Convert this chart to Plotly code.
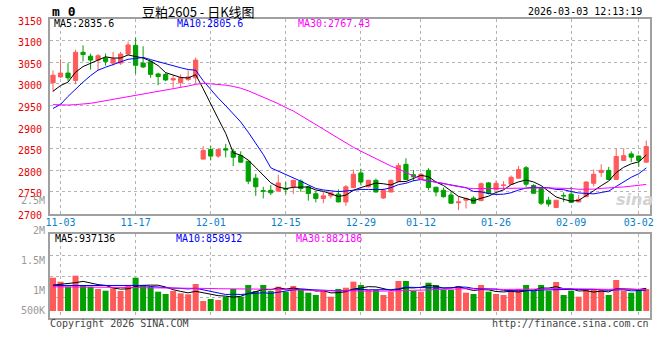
import plotly.graph_objects as go

# ---------------- data ----------------
dates = [
    "2025-10-31",
    "2025-11-03", "2025-11-04", "2025-11-05", "2025-11-06", "2025-11-07",
    "2025-11-10", "2025-11-11", "2025-11-12", "2025-11-13", "2025-11-14",
    "2025-11-17", "2025-11-18", "2025-11-19", "2025-11-20", "2025-11-21",
    "2025-11-24", "2025-11-25", "2025-11-26", "2025-11-27", "2025-11-28",
    "2025-12-01", "2025-12-02", "2025-12-03", "2025-12-04", "2025-12-05",
    "2025-12-08", "2025-12-09", "2025-12-10", "2025-12-11", "2025-12-12",
    "2025-12-15", "2025-12-16", "2025-12-17", "2025-12-18", "2025-12-19",
    "2025-12-22", "2025-12-23", "2025-12-24", "2025-12-25", "2025-12-26",
    "2025-12-29", "2025-12-30", "2025-12-31",
    "2026-01-05", "2026-01-06", "2026-01-07", "2026-01-08", "2026-01-09",
    "2026-01-12", "2026-01-13", "2026-01-14", "2026-01-15", "2026-01-16",
    "2026-01-19", "2026-01-20", "2026-01-21", "2026-01-22", "2026-01-23",
    "2026-01-26", "2026-01-27", "2026-01-28", "2026-01-29", "2026-01-30",
    "2026-02-02", "2026-02-03", "2026-02-04", "2026-02-05", "2026-02-06",
    "2026-02-09", "2026-02-10", "2026-02-11", "2026-02-12", "2026-02-13",
    "2026-02-24", "2026-02-25", "2026-02-26", "2026-02-27",
    "2026-03-02", "2026-03-03",
]

opens = [3003, 3016, 3025, 3008, 3073, 3064, 3055, 3060, 3048, 3048,
         3069, 3089, 3048, 3051, 3023, 3022, 3009, 3003, 3010, 3014,
         2826, 2848, 2833, 2850, 2844, 2834, 2821, 2782, 2753, 2754,
         2752, 2758, 2762, 2775, 2762, 2746, 2735, 2741, 2745, 2727,
         2760, 2794, 2762, 2777, 2736, 2750, 2775, 2814, 2790, 2780,
         2800, 2761, 2754, 2743, 2725, 2731, 2736, 2730, 2771, 2755,
         2765, 2768, 2782, 2806, 2765, 2758, 2731, 2714, 2742, 2745,
         2727, 2739, 2770, 2795, 2800, 2779, 2823, 2838, 2833, 2819]
highs = [3031, 3057, 3048, 3079, 3089, 3070, 3069, 3070, 3074, 3074,
         3098, 3107, 3087, 3054, 3026, 3026, 3020, 3022, 3031, 3061,
         2856, 2856, 2850, 2861, 2850, 2844, 2822, 2792, 2762, 2766,
         2790, 2773, 2778, 2779, 2764, 2752, 2750, 2751, 2756, 2766,
         2802, 2804, 2778, 2781, 2758, 2779, 2817, 2828, 2801, 2794,
         2805, 2762, 2760, 2752, 2739, 2737, 2740, 2772, 2773, 2777,
         2775, 2788, 2810, 2810, 2768, 2759, 2739, 2731, 2749, 2762,
         2743, 2775, 2802, 2814, 2808, 2850, 2851, 2844, 2835, 2869]
lows = [2981, 3014, 3007, 3000, 3052, 3033, 3031, 3042, 3042, 3044,
        3068, 3023, 3037, 3014, 2997, 3006, 2991, 2992, 3006, 3002,
        2825, 2823, 2829, 2830, 2810, 2818, 2768, 2741, 2735, 2743,
        2751, 2745, 2745, 2750, 2730, 2726, 2724, 2735, 2726, 2718,
        2759, 2765, 2760, 2749, 2734, 2749, 2772, 2778, 2775, 2777,
        2754, 2740, 2737, 2723, 2708, 2712, 2722, 2729, 2744, 2754,
        2756, 2767, 2781, 2762, 2746, 2720, 2716, 2713, 2727, 2725,
        2726, 2739, 2763, 2785, 2779, 2779, 2822, 2819, 2808, 2818]
closes = [3020, 3025, 3014, 3073, 3068, 3055, 3065, 3052, 3058, 3069,
          3090, 3043, 3039, 3022, 3017, 3009, 3012, 3014, 3016, 3055,
          2846, 2833, 2848, 2847, 2830.5, 2819, 2775, 2762, 2752, 2748,
          2771, 2756, 2777, 2758, 2746.5, 2735, 2741, 2748, 2727, 2762,
          2791, 2773, 2777, 2750, 2754, 2777, 2811, 2779, 2785, 2791,
          2760, 2750, 2739, 2724, 2727, 2735, 2724, 2769, 2747, 2770,
          2766, 2784, 2802, 2768, 2747, 2724, 2722, 2731, 2741, 2726,
          2733, 2773, 2791, 2800, 2779, 2832, 2834, 2830.5, 2823, 2855]

ma5 = [2983, 2996, 3004, 3027, 3040, 3047, 3055, 3062.6, 3059.6, 3059.8,
       3066.8, 3062.4, 3059.8, 3052.6, 3042.2, 3026, 3019.8, 3014.8, 3013.6, 3021.2,
       2988.6, 2952.6, 2919.4, 2885.4, 2840.5, 2835.1, 2823.7, 2806.5, 2787.7, 2771.2,
       2761.6, 2757.8, 2760.8, 2762, 2761.7, 2754.5, 2751.5, 2745.7, 2739.5, 2742.6,
       2753.8, 2760.2, 2766, 2770.6, 2769, 2766.2, 2773.8, 2774.2, 2781.2, 2788.6,
       2785.2, 2773, 2765, 2752.8, 2739.8, 2734.8, 2729.6, 2735.6, 2740.2, 2748.8,
       2755, 2766.8, 2773.4, 2777.6, 2773.2, 2764.8, 2752.6, 2738.4, 2733, 2728.8,
       2730.6, 2740.8, 2752.8, 2764.6, 2775.2, 2795, 2807.2, 2815.1, 2819.7, 2835.6]
ma10 = [2943, 2952.5, 2971, 2988, 3004, 3019, 3031.7, 3038.5, 3044.7, 3049.9,
        3056.9, 3058.7, 3061.2, 3056.1, 3051, 3046.4, 3041.1, 3037.3, 3033.1, 3031.7,
        3007.3, 2986.2, 2967.1, 2949.5, 2930.9, 2911.9, 2888.2, 2863, 2836.6, 2805.9,
        2798.4, 2790.8, 2783.7, 2774.9, 2766.5, 2758.1, 2754.7, 2753.3, 2750.8, 2752.2,
        2754.2, 2755.9, 2755.9, 2755.1, 2755.8, 2760, 2767, 2770.1, 2775.9, 2778.8,
        2775.7, 2773.4, 2769.6, 2767, 2764.2, 2760, 2751.3, 2750.3, 2746.5, 2744.3,
        2744.9, 2748.2, 2754.5, 2758.9, 2761, 2759.9, 2759.7, 2755.9, 2755.3, 2751,
        2747.7, 2746.7, 2745.6, 2748.8, 2752, 2762.8, 2774, 2784, 2792.2, 2805.6]
ma30 = [2952, 2951, 2951, 2952, 2953, 2955, 2958, 2961, 2964, 2967,
        2970, 2973, 2976, 2979, 2982, 2985, 2988, 2991, 2995, 2999,
        3001, 3000, 2999, 2997, 2994, 2990, 2984, 2977, 2970, 2962.5,
        2954.2, 2945.2, 2937.3, 2926.8, 2916.1, 2905.4, 2894.6, 2884.5, 2873.5, 2863.2,
        2853.3, 2844.3, 2835.5, 2826.5, 2817.7, 2810, 2803.3, 2795.4, 2787.7, 2778.9,
        2776.1, 2773.3, 2769.7, 2765.6, 2762.2, 2759.4, 2757.7, 2757.9, 2757.7, 2758.5,
        2758.3, 2759.2, 2760.1, 2760.4, 2760.4, 2760, 2759.4, 2758.8, 2759.3, 2758.1,
        2756.2, 2756.2, 2756.6, 2758.3, 2759.1, 2761, 2761.7, 2763.5, 2764.7, 2767.43]

volumes = [1376000, 1211000, 1004000, 1459000, 1074000, 1004000, 909000, 839000, 938000, 826000,
           1074000, 1376000, 1074000, 1004000, 798000, 702000, 826000, 731000, 690000, 1116000,
           413000, 496000, 455000, 591000, 909000, 591000, 1074000, 826000, 1074000, 826000,
           1004000, 798000, 1033000, 868000, 756000, 661000, 868000, 591000, 909000, 963000,
           1211000, 1074000, 868000, 868000, 661000, 798000, 1240000, 1240000, 826000, 798000,
           1169000, 1074000, 868000, 868000, 1033000, 756000, 702000, 1074000, 798000, 702000,
           661000, 839000, 909000, 1074000, 839000, 1074000, 839000, 1198000, 661000, 839000,
           591000, 909000, 909000, 868000, 661000, 1281000, 839000, 756000, 909000, 909000]
vol_ma5 = [1070000, 1100000, 1130000, 1170000, 1225000, 1150000, 1090000, 1057000, 953000, 903000,
           917000, 1011000, 1058000, 1071000, 1065000, 991000, 881000, 812000, 749000, 813000,
           755000, 689000, 634000, 614000, 573000, 608000, 724000, 798000, 895000, 878000,
           961000, 906000, 947000, 906000, 892000, 823000, 837000, 749000, 757000, 798000,
           908000, 950000, 1005000, 997000, 936000, 854000, 887000, 961000, 953000, 980000,
           1055000, 1021000, 947000, 955000, 1002000, 920000, 845000, 887000, 873000, 806000,
           787000, 815000, 782000, 837000, 864000, 947000, 947000, 1005000, 922000, 922000,
           826000, 840000, 782000, 823000, 788000, 926000, 912000, 881000, 889000, 937136]
vol_ma10 = [1050000, 1050000, 1050000, 1060000, 1060000, 1060000, 1060000, 1060000, 1060000, 1064000,
            1034000, 1050000, 1057000, 1012000, 984000, 954000, 946000, 935000, 910000, 939000,
            873000, 785000, 723000, 682000, 693000, 682000, 707000, 716000, 755000, 726000,
            785000, 815000, 873000, 900000, 885000, 892000, 871000, 848000, 831000, 845000,
            866000, 893000, 877000, 877000, 867000, 881000, 918000, 983000, 975000, 958000,
            954000, 954000, 954000, 954000, 991000, 987000, 933000, 917000, 914000, 904000,
            854000, 830000, 834000, 855000, 835000, 867000, 881000, 893000, 880000, 893000,
            886000, 893000, 893000, 873000, 855000, 876000, 876000, 831000, 856000, 858912]
vol_ma30 = [1000000, 1000000, 1000000, 1000000, 990000, 990000, 990000, 980000, 980000, 970000,
            970000, 970000, 960000, 960000, 950000, 950000, 950000, 940000, 940000, 940000,
            930000, 930000, 920000, 920000, 920000, 920000, 910000, 910000, 910000, 910000,
            897000, 883000, 884000, 865000, 854000, 843000, 841000, 833000, 832000, 837000,
            841000, 831000, 824000, 820000, 815000, 818000, 832000, 849000, 854000, 843000,
            868000, 887000, 901000, 910000, 915000, 920000, 908000, 916000, 907000, 903000,
            891000, 893000, 888000, 895000, 898000, 912000, 911000, 931000, 923000, 919000,
            898000, 893000, 894000, 894000, 894000, 910000, 897000, 881000, 883000, 882186]

tick_dates = ["2025-11-03", "2025-11-17", "2025-12-01", "2025-12-15", "2025-12-29",
              "2026-01-12", "2026-01-26", "2026-02-09", "2026-03-02"]
tick_labels = ["11-03", "11-17", "12-01", "12-15", "12-29", "01-12", "01-26", "02-09", "03-02"]
vol_labels = ["2.5M", "2M", "1.5M", "1M", "500K"]

# ---------------- styling ----------------
W, H = 660, 360
MONO = "DejaVu Sans Mono, Liberation Mono, monospace"
RED = "#ff5a5a"
GREEN = "#00a000"
GRID = "#b4b4b4"
FRAME = "#a0a0a0"


def px(x):
    return x / W


def py(y):
    return 1 - y / H


fig = go.Figure()

fig.add_trace(go.Candlestick(
    x=dates, open=opens, high=highs, low=lows, close=closes,
    increasing=dict(line=dict(color=RED, width=1), fillcolor=RED),
    decreasing=dict(line=dict(color=GREEN, width=1), fillcolor=GREEN),
    whiskerwidth=0, xaxis="x", yaxis="y", showlegend=False, hoverinfo="skip",
))
for vals, col in [(ma5, "#000000"), (ma10, "#0000ff"), (ma30, "#ff00ff")]:
    fig.add_trace(go.Scatter(x=dates, y=vals, mode="lines", xaxis="x", yaxis="y",
                             line=dict(color=col, width=1), showlegend=False,
                             hoverinfo="skip"))

bar_colors = [RED if c >= o else GREEN for o, c in zip(opens, closes)]
fig.add_trace(go.Bar(x=dates, y=volumes, xaxis="x2", yaxis="y2",
                     marker=dict(color=bar_colors, line=dict(width=0)),
                     showlegend=False, hoverinfo="skip"))
for vals, col in [(vol_ma5, "#000000"), (vol_ma10, "#0000ff"), (vol_ma30, "#ff00ff")]:
    fig.add_trace(go.Scatter(x=dates, y=vals, mode="lines", xaxis="x2", yaxis="y2",
                             line=dict(color=col, width=1), showlegend=False,
                             hoverinfo="skip"))

xdom = [px(50), px(650)]
common_x = dict(type="category", range=[-0.4, 79.5], tickmode="array",
                tickvals=tick_dates, showgrid=True, gridcolor=GRID, griddash="dot",
                gridwidth=1, showline=True, linecolor=FRAME, linewidth=2, mirror=True,
                ticks="", automargin=False, fixedrange=True, zeroline=False)

fig.update_layout(
    width=W, height=H,
    margin=dict(l=0, r=0, t=0, b=0),
    paper_bgcolor="white", plot_bgcolor="white",
    hovermode=False, showlegend=False,
    boxgap=0.2, bargap=0.2,
    xaxis=dict(domain=xdom, anchor="y", ticktext=tick_labels,
               tickfont=dict(family=MONO, size=10, color="#0a7fc8"),
               ticklabelstandoff=-2, ticklabeloverflow="allow",
               rangeslider=dict(visible=False), **common_x),
    yaxis=dict(domain=[py(213.6), py(19)], anchor="x", range=[2700, 3150],
               tickmode="linear", tick0=2700, dtick=50,
               tickfont=dict(family=MONO, size=10, color="#e80000"),
               showgrid=True, gridcolor=GRID, griddash="dot", gridwidth=1,
               showline=True, linecolor=FRAME, linewidth=2, mirror=True,
               zeroline=False, ticks="", automargin=False, fixedrange=True,
               ticklabelstandoff=4, ticklabelshift=2),
    xaxis2=dict(domain=xdom, anchor="y2", matches="x", showticklabels=False,
                **common_x),
    yaxis2=dict(domain=[py(318), py(234.3)], anchor="x2", range=[-289300, 3169000],
                tickmode="array", tickvals=[575300, 1439800, 2304400],
                showticklabels=False, showgrid=True, gridcolor=GRID, griddash="dot",
                gridwidth=1, showline=True, linecolor=FRAME, linewidth=2, mirror=True,
                zeroline=False, ticks="", automargin=False, fixedrange=True),
)

annotations = []


def ann(text, x, y, xanchor="left", color="#000000", size=10, family=MONO):
    annotations.append(dict(text=text, x=px(x), y=py(y), xref="paper", yref="paper",
                            xanchor=xanchor, yanchor="middle", showarrow=False,
                            font=dict(family=family, size=size, color=color),
                            borderpad=0))


# header
ann("<b>m 0</b>", 51, 12, size=13)
ann("豆粕2605 - 日K线图", 141, 12, size=13, family="Noto Sans CJK SC, sans-serif")
ann("2026-03-03 12:13:19", 643, 12, xanchor="right", size=10)

# MA legends (price)
ann(f"MA5:{ma5[-1]}", 53, 24, color="#000000")
ann(f"MA10:{ma10[-1]}", 176, 24, color="#0000ff")
ann(f"MA30:{ma30[-1]}", 297, 24, color="#ff00ff")

# MA legends (volume)
ann(f"MA5:{vol_ma5[-1]}", 54, 238.5, color="#000000")
ann(f"MA10:{vol_ma10[-1]}", 175, 238.5, color="#0000ff")
ann(f"MA30:{vol_ma30[-1]}", 295, 238.5, color="#ff00ff")

# volume axis labels (as drawn in the reference)
for lab, yy in zip(vol_labels, [200.7, 230.7, 260.7, 290.7, 310.7]):
    ann(lab, 46, yy, xanchor="right", color="#999999")

# footer
ann("Copyright 2026 SINA.COM", 49, 323.5, color="#444444")
ann("http://finance.sina.com.cn", 650, 323.5, xanchor="right", color="#444444")

# watermark
ann("<b><i>sina</i></b>", 634, 199, xanchor="center", color="#d2d2d2", size=16,
    family="DejaVu Sans, sans-serif")

fig.update_layout(annotations=annotations)

fig.write_html("out.html",
               config={"displayModeBar": False, "staticPlot": True},
               post_script="document.body.style.margin='0';"
                           "document.body.style.padding='0';"
                           "document.body.style.overflow='hidden';")
